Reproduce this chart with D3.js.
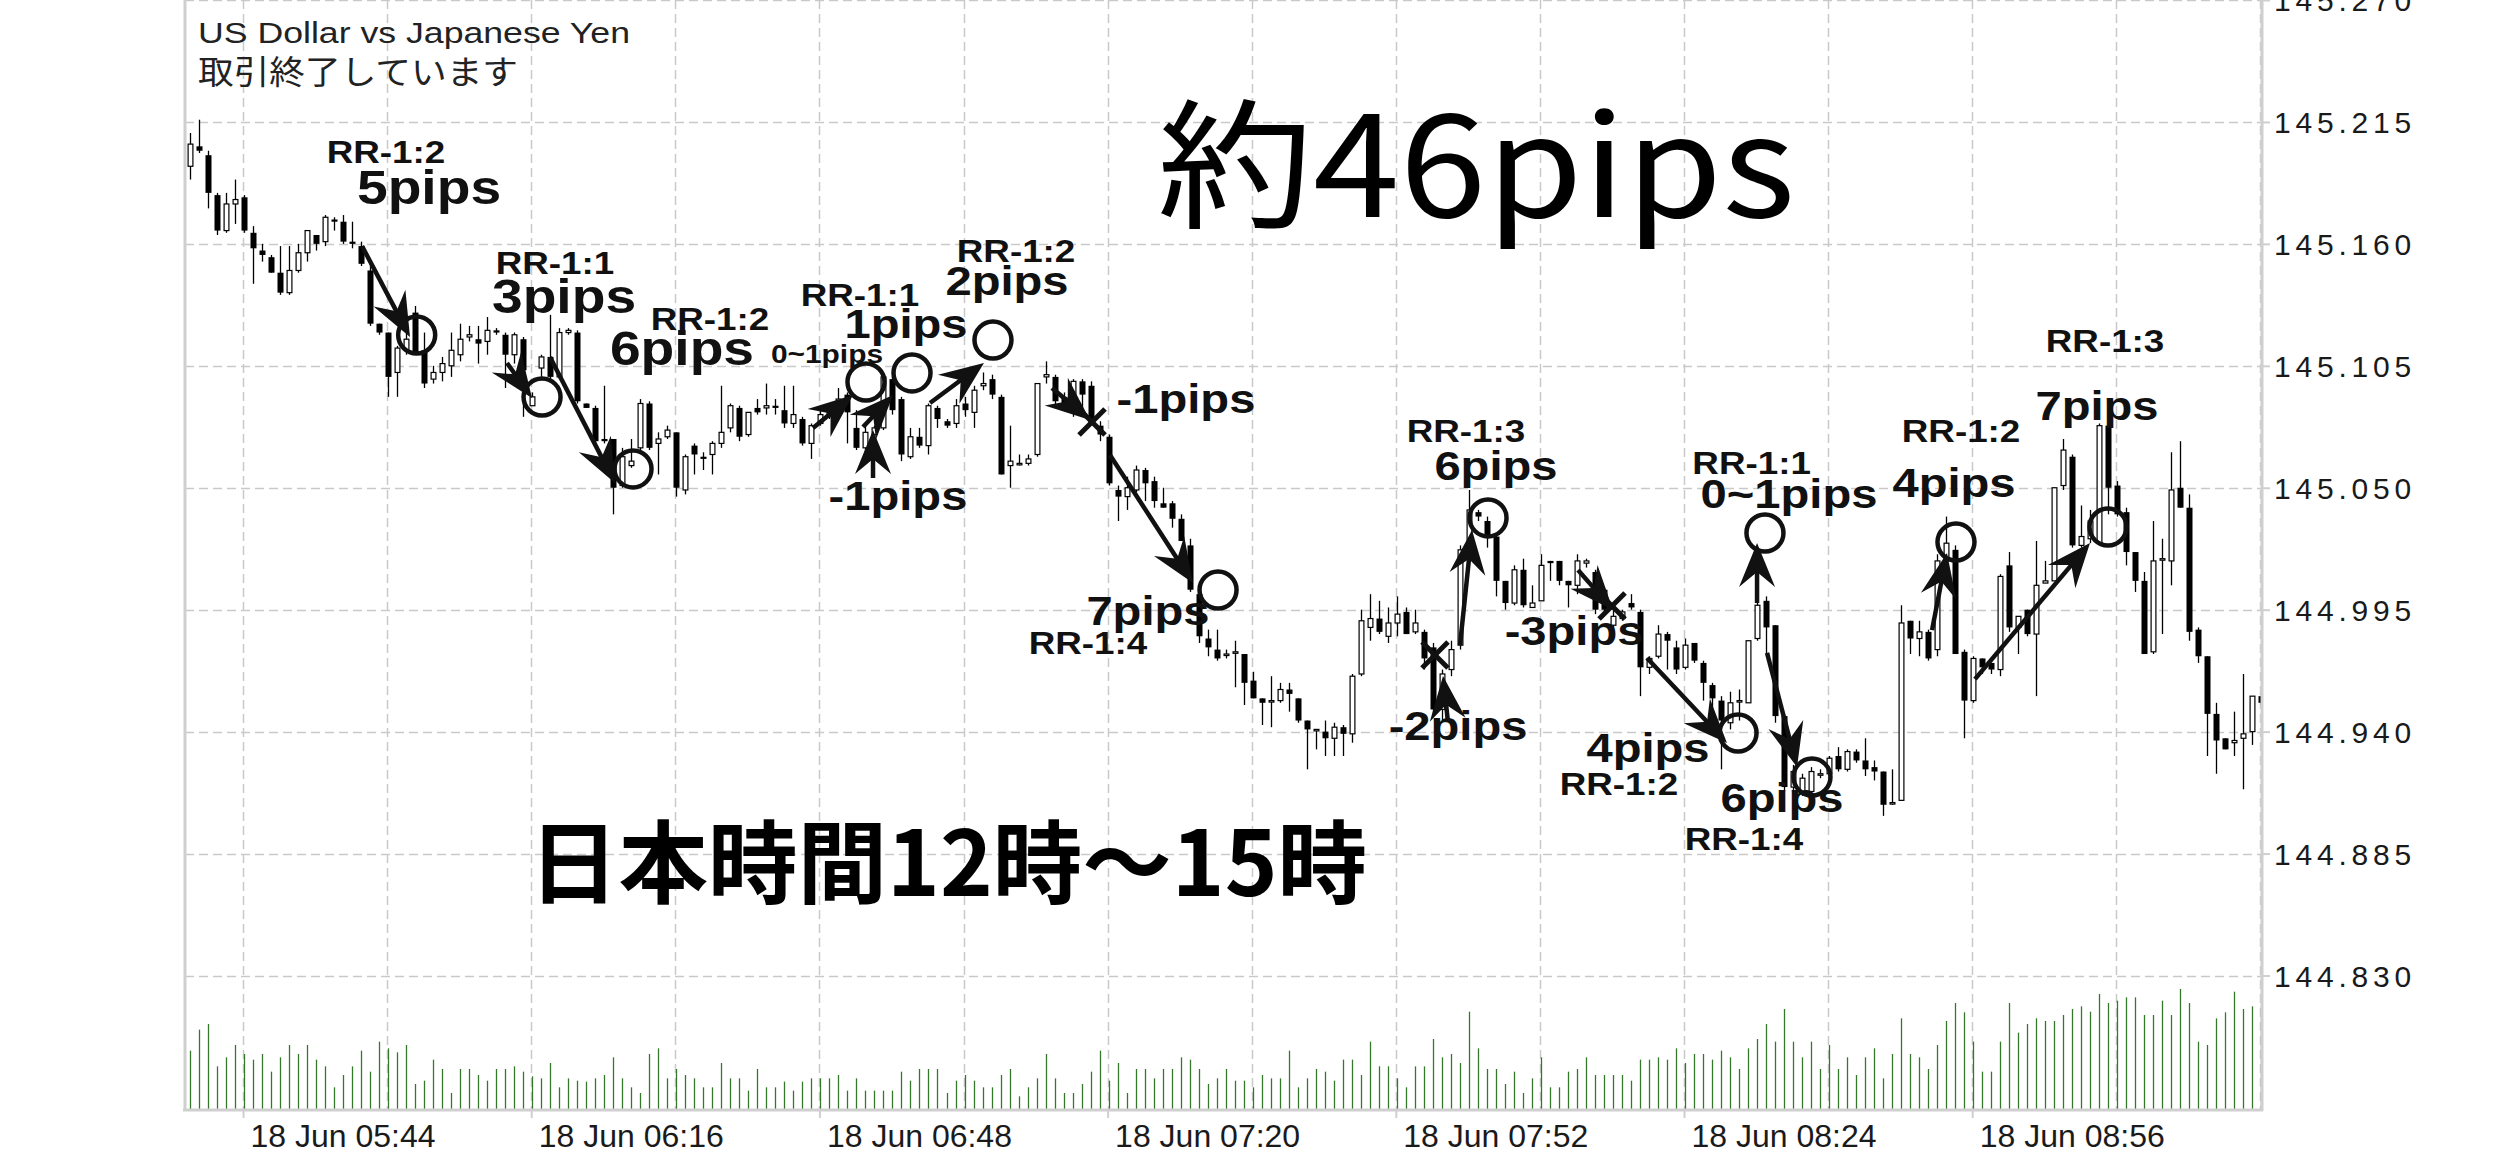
<!DOCTYPE html>
<html>
<head>
<meta charset="utf-8">
<script src="https://cdn.jsdelivr.net/npm/d3@7"></script>
<style>
  html, body { margin: 0; padding: 0; background: #fff; overflow: hidden; }
  svg { display: block; }
</style>
</head>
<body>
<svg id="chart" width="2520" height="1159"></svg>
<script>
// ---- USDJPY M1 candles, 18 Jun 05:38 – 09:28 (server time) ----
const candleOpen = [
  145.195,145.204,145.200,145.182,145.166,145.178,145.181,145.165,145.157,145.154,
  145.147,145.138,145.148,145.156,145.164,145.161,145.171,145.170,145.161,145.159,
  145.148,145.124,145.120,145.102,145.112,145.129,145.112,145.099,145.102,145.105,
  145.110,145.118,145.117,145.116,145.121,145.119,145.110,145.117,145.087,145.104,
  145.109,145.100,145.120,145.120,145.088,145.086,145.072,145.072,145.051,145.060,
  145.068,145.088,145.070,145.073,145.075,145.049,145.069,145.064,145.065,145.070,
  145.077,145.086,145.074,145.086,145.086,145.087,145.085,145.079,145.081,145.070,
  145.079,145.082,145.086,145.092,145.077,145.068,145.074,145.077,145.099,145.090,
  145.064,145.073,145.069,145.086,145.080,145.079,145.088,145.084,145.096,145.099,
  145.091,145.060,145.061,145.061,145.065,145.100,145.100,145.091,145.090,145.098,
  145.096,145.078,145.073,145.049,145.046,145.049,145.058,145.053,145.043,145.043,
  145.036,145.024,145.002,144.982,144.977,144.975,144.976,144.975,144.963,144.955,
  144.954,144.954,144.959,144.955,144.945,144.941,144.940,144.937,144.942,144.939,
  144.966,144.987,144.991,144.983,144.989,144.994,144.985,144.985,144.978,144.950,
  144.968,144.979,145.022,145.039,145.035,145.028,145.008,144.998,145.013,144.996,
  144.999,145.017,145.017,145.008,145.006,145.016,145.012,145.004,144.988,144.991,
  144.998,144.994,144.969,144.974,144.984,144.978,144.969,144.980,144.971,144.961,
  144.954,144.944,144.954,144.953,144.982,144.999,144.988,144.947,144.915,144.913,
  144.913,144.921,144.921,144.929,144.923,144.931,144.927,144.924,144.922,144.908,
  144.909,144.990,144.982,144.985,144.977,145.017,145.022,144.976,144.954,144.973,
  144.971,144.968,145.015,144.987,144.995,144.984,145.007,145.008,145.051,145.064,
  145.024,145.027,145.025,145.078,145.051,145.039,145.021,145.008,144.976,145.018,
  145.017,145.050,145.041,144.986,144.974,144.948,144.937,144.935,144.937,144.940,
  144.956
];
const candleHigh = [
  145.210,145.216,145.202,145.183,145.183,145.189,145.182,145.168,145.160,145.155,
  145.159,145.159,145.160,145.166,145.164,145.173,145.172,145.173,145.170,145.161,
  145.153,145.124,145.120,145.114,145.120,145.132,145.120,145.105,145.109,145.120,
  145.124,145.123,145.123,145.127,145.122,145.120,145.120,145.118,145.093,145.110,
  145.128,145.122,145.122,145.121,145.088,145.087,145.096,145.072,145.068,145.072,
  145.090,145.089,145.075,145.078,145.075,145.065,145.070,145.066,145.071,145.096,
  145.088,145.087,145.084,145.090,145.097,145.090,145.096,145.096,145.082,145.079,
  145.085,145.088,145.095,145.093,145.085,145.078,145.078,145.100,145.100,145.091,
  145.077,145.077,145.088,145.087,145.081,145.090,145.091,145.096,145.102,145.101,
  145.092,145.078,145.065,145.065,145.097,145.107,145.101,145.093,145.099,145.099,
  145.098,145.080,145.074,145.051,145.055,145.060,145.059,145.055,145.050,145.044,
  145.038,145.027,145.004,144.986,144.986,144.977,144.981,144.975,144.967,144.955,
  144.965,144.962,144.962,144.955,144.945,144.941,144.945,144.944,144.943,144.966,
  144.995,145.002,144.999,144.996,145.001,144.996,144.995,144.986,144.980,144.968,
  144.981,145.024,145.049,145.040,145.037,145.029,145.008,145.015,145.018,145.006,
  145.020,145.017,145.017,145.008,145.020,145.018,145.013,145.005,144.997,144.995,
  145.002,144.995,144.974,144.988,144.985,144.981,144.982,144.980,144.972,144.962,
  144.956,144.958,144.959,144.981,145.007,145.001,144.988,144.948,144.925,144.921,
  144.924,144.923,144.929,144.933,144.932,144.932,144.937,144.927,144.922,144.923,
  144.997,144.990,144.990,144.986,145.020,145.037,145.024,144.977,144.974,144.973,
  144.971,145.011,145.021,144.992,144.995,145.026,145.017,145.050,145.072,145.065,
  145.042,145.040,145.079,145.080,145.053,145.041,145.021,145.012,145.035,145.027,
  145.066,145.071,145.047,144.987,144.974,144.953,144.937,144.949,144.966,144.956,
  144.957
];
const candleLow = [
  145.189,145.201,145.176,145.164,145.165,145.169,145.165,145.142,145.152,145.147,
  145.137,145.137,145.147,145.152,145.157,145.159,145.166,145.160,145.158,145.150,
  145.123,145.119,145.091,145.091,145.110,145.110,145.095,145.097,145.098,145.100,
  145.107,145.116,145.106,145.110,145.119,145.095,145.106,145.082,145.087,145.100,
  145.098,145.099,145.119,145.088,145.086,145.070,145.070,145.038,145.050,145.059,
  145.067,145.067,145.056,145.072,145.046,145.047,145.056,145.058,145.056,145.068,
  145.075,145.071,145.073,145.083,145.083,145.083,145.077,145.077,145.069,145.063,
  145.078,145.081,145.084,145.070,145.067,145.066,145.066,145.076,145.083,145.062,
  145.063,145.068,145.065,145.077,145.077,145.077,145.082,145.077,145.094,145.090,
  145.056,145.050,145.060,145.060,145.064,145.097,145.086,145.086,145.082,145.083,
  145.078,145.071,145.051,145.035,145.040,145.048,145.044,145.041,145.041,145.032,
  145.026,145.003,144.980,144.974,144.972,144.973,144.960,144.952,144.955,144.943,
  144.942,144.953,144.949,144.944,144.923,144.932,144.929,144.929,144.929,144.935,
  144.965,144.981,144.984,144.980,144.983,144.984,144.984,144.968,144.948,144.945,
  144.965,144.977,145.018,145.035,145.023,145.001,144.995,144.997,144.996,144.996,
  144.999,145.008,145.006,144.996,145.002,145.014,144.993,144.993,144.986,144.990,
  144.995,144.956,144.966,144.973,144.968,144.966,144.968,144.971,144.954,144.948,
  144.923,144.941,144.945,144.953,144.981,144.975,144.944,144.913,144.913,144.911,
  144.912,144.919,144.920,144.922,144.922,144.926,144.920,144.918,144.902,144.907,
  144.909,144.975,144.974,144.972,144.974,145.015,144.975,144.937,144.953,144.966,
  144.966,144.965,144.985,144.975,144.983,144.956,145.007,145.008,145.049,145.023,
  145.023,145.025,145.024,145.038,145.037,145.015,145.003,144.975,144.975,144.984,
  145.006,145.041,144.981,144.971,144.929,144.921,144.932,144.929,144.914,144.934,
  144.952
];
const candleClose = [
  145.205,145.202,145.183,145.166,145.178,145.180,145.166,145.158,145.155,145.147,
  145.138,145.148,145.156,145.166,145.160,145.172,145.170,145.161,145.160,145.151,
  145.124,145.120,145.100,145.113,145.117,145.111,145.097,145.102,145.106,145.112,
  145.117,145.119,145.115,145.121,145.120,145.110,145.119,145.103,145.091,145.109,
  145.100,145.120,145.121,145.089,145.086,145.071,145.071,145.050,145.064,145.062,
  145.088,145.068,145.072,145.076,145.050,145.064,145.065,145.063,145.070,145.075,
  145.087,145.073,145.084,145.084,145.087,145.086,145.079,145.083,145.070,145.078,
  145.083,145.085,145.090,145.084,145.068,145.075,145.077,145.100,145.085,145.065,
  145.073,145.069,145.087,145.081,145.078,145.087,145.085,145.094,145.097,145.092,
  145.056,145.062,145.061,145.063,145.097,145.101,145.089,145.088,145.098,145.092,
  145.079,145.074,145.052,145.046,145.050,145.058,145.052,145.044,145.041,145.036,
  145.026,145.004,144.983,144.978,144.973,144.975,144.976,144.962,144.955,144.953,
  144.954,144.959,144.957,144.945,144.941,144.941,144.937,144.942,144.939,144.965,
  144.990,144.991,144.985,144.989,144.993,144.984,144.989,144.973,144.950,144.966,
  144.977,145.022,145.040,145.037,145.028,145.008,144.998,145.013,144.997,144.998,
  145.015,145.016,145.008,145.006,145.017,145.017,144.995,144.995,144.992,144.994,
  144.996,144.969,144.973,144.984,144.981,144.968,144.979,144.972,144.962,144.955,
  144.945,144.953,144.954,144.981,144.997,144.987,144.947,144.915,144.922,144.919,
  144.922,144.921,144.928,144.923,144.931,144.927,144.923,144.922,144.907,144.908,
  144.989,144.982,144.985,144.973,145.017,145.025,144.975,144.954,144.973,144.969,
  144.968,145.010,144.987,144.992,144.984,145.006,145.008,145.050,145.067,145.024,
  145.028,145.035,145.078,145.050,145.038,145.021,145.008,144.975,145.017,145.018,
  145.049,145.041,144.985,144.974,144.948,144.936,144.932,144.936,144.939,144.956,
  144.953
];
const tickVolume = [
  175,238,255,128,155,192,165,148,165,112,
  155,192,165,192,148,128,65,102,128,175,
  112,202,182,170,192,75,85,148,120,48,
  120,120,102,85,120,120,128,112,98,92,
  138,65,92,85,82,92,102,155,92,65,
  48,165,182,92,120,102,92,65,65,138,
  92,92,55,120,65,65,82,55,82,92,
  92,92,102,55,92,55,55,55,55,112,
  85,120,120,120,48,85,102,85,65,65,
  102,120,38,65,92,165,92,48,48,75,
  112,175,85,138,48,120,120,92,120,120,
  155,148,120,75,92,120,85,85,65,102,
  92,92,175,65,92,120,112,85,148,148,
  102,202,128,128,92,65,128,128,210,155,
  165,138,292,182,120,120,75,112,48,92,
  155,65,65,112,120,155,102,102,102,102,
  85,148,148,155,148,182,138,165,165,148,
  175,155,120,182,210,255,202,300,202,155,
  202,120,192,120,155,102,155,182,92,165,
  272,165,155,120,192,264,318,290,202,112,
  112,202,318,229,255,272,264,264,282,300,
  308,292,345,318,325,335,335,282,282,325,
  282,360,318,202,192,272,290,352,300,308,
  310
];

// ---- axes ----
const priceTicks = [144.830, 144.885, 144.940, 144.995, 145.050, 145.105, 145.160, 145.215, 145.270];
const timeTickIndex = [6, 38, 70, 102, 134, 166, 198];
const timeTickLabels = ["18 Jun 05:44", "18 Jun 06:16", "18 Jun 06:48", "18 Jun 07:20",
                        "18 Jun 07:52", "18 Jun 08:24", "18 Jun 08:56"];
const gridIndex = [6, 22, 38, 54, 70, 86, 102, 118, 134, 150, 166, 182, 198, 214, 230];
const titleLines = ["US Dollar vs Japanese Yen", "取引終了しています"];

// ---- trade notes: [candle index, price, text, kind] ----
const noteLabels = [
  [21.76, 145.1965, "RR-1:2", "rr"],  [26.54, 145.1780, "5pips", "big"],
  [40.53, 145.1464, "RR-1:1", "rr"],  [41.53, 145.1288, "3pips", "big"],
  [57.74, 145.1212, "RR-1:2", "rr"],  [54.63, 145.1054, "6pips", "big"],
  [70.73, 145.1063, "0~1pips", "small"],
  [74.39, 145.1320, "RR-1:1", "rr"],  [79.50, 145.1175, "1pips", "mid"],
  [91.72, 145.1518, "RR-1:2", "rr"],  [90.72, 145.1369, "2pips", "mid"],
  [78.61, 145.0400, "-1pips", "mid"], [110.59, 145.0837, "-1pips", "mid"],
  [106.37, 144.9881, "7pips", "mid"], [99.71, 144.9750, "RR-1:4", "rr"],
  [141.68, 145.0706, "RR-1:3", "rr"], [145.01, 145.0535, "6pips", "mid"],
  [140.80, 144.9362, "-2pips", "mid"],[153.68, 144.9791, "-3pips", "mid"],
  [161.89, 144.9263, "4pips", "mid"], [158.67, 144.9114, "RR-1:2", "rr"],
  [173.40, 145.0562, "RR-1:1", "rr"], [177.55, 145.0409, "0~1pips", "mid"],
  [176.77, 144.9037, "6pips", "mid"], [172.55, 144.8866, "RR-1:4", "rr"],
  [196.65, 145.0706, "RR-1:2", "rr"], [195.87, 145.0458, "4pips", "mid"],
  [212.64, 145.1112, "RR-1:3", "rr"], [211.75, 145.0806, "7pips", "mid"]
];
// take-profit circles [index, price]
const noteCircles = [
  [25.17, 145.1189], [39.09, 145.0909], [49.19, 145.0585], [75.06, 145.0977],
  [80.17, 145.1018], [89.16, 145.1166], [114.15, 145.0039], [144.13, 145.0364],
  [171.89, 144.9394], [174.88, 145.0296], [180.10, 144.9195], [196.09, 145.0255],
  [212.97, 145.0323]
];
// stop-loss crosses [index, price]
const noteCrosses = [[100.16, 145.0797], [138.24, 144.9746], [157.90, 144.9967]];
// trade arrows [from index, from price, to index, to price]
const noteArrows = [
  [19.10, 145.1590, 24.43, 145.1180],
  [35.20, 145.1063, 37.97, 145.0905],
  [39.97, 145.1090, 47.19, 145.0521],
  [69.18, 145.0770, 73.62, 145.0918],
  [74.73, 145.0774, 78.06, 145.0918],
  [82.17, 145.0882, 88.16, 145.1063],
  [75.84, 145.0544, 75.84, 145.0760],
  [95.71, 145.0950, 99.93, 145.0806],
  [102.15, 145.0648, 111.37, 145.0070],
  [141.02, 144.9791, 142.35, 145.0309],
  [139.68, 144.9443, 139.13, 144.9651],
  [154.12, 145.0129, 158.01, 144.9949],
  [161.78, 144.9732, 170.66, 144.9349],
  [174.00, 144.9980, 174.00, 145.0251],
  [175.11, 144.9755, 178.44, 144.9240],
  [193.43, 144.9858, 195.09, 145.0206],
  [198.20, 144.9637, 210.97, 145.0251]
];
// headline texts [index, price, text, kind]
const headlines = [
  [107.40, 145.1721, "約46pips", "head"],
  [37.64, 144.8659, "日本時間12時〜15時", "sub"]
];

// ---- styles ----
const labelStyle = {
  rr:    { size: 32 },
  big:   { size: 48 },
  mid:   { size: 41 },
  small: { size: 26 }
};
const headStyle = {
  head: { size: 140, weight: 400, length: 638 },
  sub:  { size: 90,  weight: 700, length: 838 }
};
const GRID = "#c9c9c9", AXIS = "#cfcfcf", INK = "#111";

const svg = d3.select("#chart");
const x = d3.scaleLinear().domain([0, 230]).range([190, 190 + 9.006 * 230]);
const y = d3.scaleLinear().domain([144.830, 145.270]).range([975.5, 0]);
const yv = d3.scaleLinear().domain([0, 360]).range([1109, 989]);
const px = v => Math.round(v) + 0.5;

svg.append("defs").append("clipPath").attr("id", "plot")
  .append("rect").attr("x", 186).attr("y", 0).attr("width", 2262 - 186).attr("height", 1109);

// grid
const grid = svg.append("g");
grid.selectAll("line.h").data(priceTicks).join("line")
  .attr("x1", 185).attr("x2", 2262)
  .attr("y1", d => px(y(d))).attr("y2", d => px(y(d)))
  .attr("stroke", GRID).attr("stroke-width", 1.5).attr("stroke-dasharray", "9,5");
grid.selectAll("line.v").data(gridIndex).join("line")
  .attr("x1", d => px(x(d)) - 1).attr("x2", d => px(x(d)) - 1)
  .attr("y1", 0).attr("y2", 1109)
  .attr("stroke", GRID).attr("stroke-width", 1.5).attr("stroke-dasharray", "9,5");

// volume
const bars = svg.append("g").attr("clip-path", "url(#plot)");
bars.selectAll("line").data(tickVolume).join("line")
  .attr("x1", (d, i) => px(x(i))).attr("x2", (d, i) => px(x(i)))
  .attr("y1", yv(0)).attr("y2", d => yv(d))
  .attr("stroke", "#35782b").attr("stroke-width", 1.3);

// candles
const candles = candleOpen.map((o, i) => ({
  i, o, h: candleHigh[i], l: candleLow[i], c: candleClose[i]
}));
const cg = svg.append("g").attr("clip-path", "url(#plot)");
const c = cg.selectAll("g").data(candles).join("g");
c.append("line")
  .attr("x1", d => px(x(d.i))).attr("x2", d => px(x(d.i)))
  .attr("y1", d => y(d.h)).attr("y2", d => y(d.l))
  .attr("stroke", "#000").attr("stroke-width", 1.3);
c.append("rect")
  .attr("x", d => px(x(d.i)) - (d.c >= d.o ? 2.4 : 3))
  .attr("width", d => d.c >= d.o ? 4.8 : 6)
  .attr("y", d => y(Math.max(d.o, d.c)))
  .attr("height", d => Math.max(d.c >= d.o ? 1.5 : 2, Math.abs(y(d.o) - y(d.c))))
  .attr("fill", d => d.c >= d.o ? "#fff" : "#000")
  .attr("stroke", "#000")
  .attr("stroke-width", d => d.c >= d.o ? 1.2 : 0);

// axes frame
svg.append("line").attr("x1", 185).attr("x2", 185).attr("y1", 0).attr("y2", 1111)
  .attr("stroke", AXIS).attr("stroke-width", 3);

const yAxis = svg.append("g").attr("transform", "translate(2262,0)")
  .call(d3.axisRight(y).tickValues(priceTicks).tickFormat(d3.format(".3f")).tickSize(8).tickPadding(4));
yAxis.select(".domain").attr("stroke", AXIS).attr("stroke-width", 3).attr("d", "M0,0V1111");
yAxis.selectAll(".tick line").attr("stroke", AXIS).attr("stroke-width", 2);
yAxis.selectAll(".tick text")
  .attr("fill", "#1a1a1a").attr("font-family", "'Liberation Sans', Arial, sans-serif")
  .attr("font-size", 30).attr("letter-spacing", "4.8px").attr("dy", "0.36em");

const xAxis = svg.append("g").attr("transform", "translate(0,1110)")
  .call(d3.axisBottom(x).tickValues(timeTickIndex)
    .tickFormat((d, k) => timeTickLabels[k]).tickSize(8).tickPadding(0));
xAxis.select(".domain").attr("stroke", AXIS).attr("stroke-width", 3).attr("d", "M183,0H2263");
xAxis.selectAll(".tick line").attr("stroke", AXIS).attr("stroke-width", 2)
  .attr("transform", "translate(-1,0)");
xAxis.selectAll(".tick text")
  .attr("fill", "#1a1a1a").attr("font-family", "'Liberation Sans', Arial, sans-serif")
  .attr("font-size", 32).attr("text-anchor", "start")
  .attr("x", 6).attr("y", 37).attr("dy", 0);

// title
svg.append("text").attr("x", 198).attr("y", 43)
  .attr("font-family", "'Liberation Sans', Arial, sans-serif").attr("font-size", 29)
  .attr("fill", "#222").attr("textLength", 432).attr("lengthAdjust", "spacingAndGlyphs")
  .text(titleLines[0]);
svg.append("text").attr("x", 198).attr("y", 84)
  .attr("font-family", "'Noto Sans CJK JP', sans-serif").attr("font-size", 33)
  .attr("fill", "#222").attr("textLength", 320).attr("lengthAdjust", "spacingAndGlyphs")
  .text(titleLines[1]);

// trade notes
const notes = svg.append("g").attr("fill", "none").attr("stroke", INK);
notes.selectAll("circle").data(noteCircles).join("circle")
  .attr("cx", d => x(d[0])).attr("cy", d => y(d[1])).attr("r", 18.5)
  .attr("stroke-width", 4.5);
const cross = notes.selectAll("g.cross").data(noteCrosses).join("g")
  .attr("transform", d => `translate(${x(d[0])},${y(d[1])})`).attr("stroke-width", 5);
cross.append("line").attr("x1", -13).attr("y1", -13).attr("x2", 13).attr("y2", 13);
cross.append("line").attr("x1", -13).attr("y1", 13).attr("x2", 13).attr("y2", -13);

const HEAD_L = 44, HEAD_W = 18, HEAD_N = 29;
const arrows = svg.append("g");
noteArrows.forEach(a => {
  const x1 = x(a[0]), y1 = y(a[1]), x2 = x(a[2]), y2 = y(a[3]);
  const ang = Math.atan2(y2 - y1, x2 - x1);
  const len = Math.hypot(x2 - x1, y2 - y1);
  const g = arrows.append("g")
    .attr("transform", `translate(${x2},${y2}) rotate(${ang * 180 / Math.PI})`);
  if (len > HEAD_N) {
    g.append("line").attr("x1", -len).attr("y1", 0).attr("x2", -HEAD_N + 2).attr("y2", 0)
      .attr("stroke", INK).attr("stroke-width", 4.5);
  }
  g.append("path")
    .attr("d", `M0,0L${-HEAD_L},${-HEAD_W}L${-HEAD_N},0L${-HEAD_L},${HEAD_W}Z`)
    .attr("fill", INK);
});

svg.append("g").selectAll("text").data(noteLabels).join("text")
  .attr("transform", d => `translate(${x(d[0])},${y(d[1])}) scale(1.15,1)`)
  .attr("text-anchor", "middle")
  .attr("font-family", "'Liberation Sans', Arial, sans-serif")
  .attr("font-weight", 700)
  .attr("font-size", d => labelStyle[d[3]].size)
  .attr("fill", INK)
  .text(d => d[2]);

svg.append("g").selectAll("text").data(headlines).join("text")
  .attr("x", d => x(d[0])).attr("y", d => y(d[1]))
  .attr("font-family", "'Noto Sans CJK JP', sans-serif")
  .attr("font-weight", d => headStyle[d[3]].weight)
  .attr("font-size", d => headStyle[d[3]].size)
  .attr("textLength", d => headStyle[d[3]].length)
  .attr("lengthAdjust", "spacingAndGlyphs")
  .attr("fill", "#000")
  .text(d => d[2]);
</script>
</body>
</html>
